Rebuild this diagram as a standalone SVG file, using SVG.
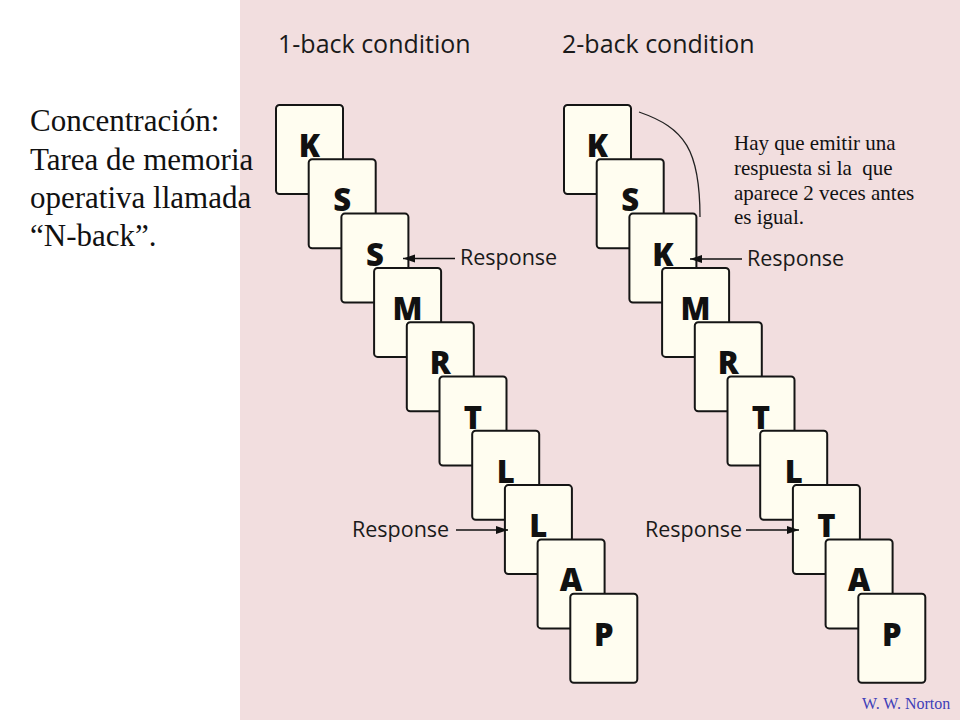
<svg xmlns="http://www.w3.org/2000/svg" width="960" height="720" viewBox="0 0 960 720">
<defs>
<style>
.bg{fill:#F2DEDF}
.card rect{fill:#FFFDF0;stroke:#151515;stroke-width:2}
.card text{font-family:"Open Sans","Liberation Sans",sans-serif;font-weight:800;font-size:31px;text-anchor:middle;fill:#111}
.sans{font-family:"Open Sans","Liberation Sans",sans-serif;fill:#1a1a1a}
.head{font-size:25px}
.resp{font-size:21.5px}
.serif{font-family:"Liberation Serif","Times New Roman",serif;fill:#111}
.conn line{stroke:#111;stroke-width:1.6}
.curve{fill:none;stroke:#222;stroke-width:1.3}
</style>
<marker id="ah" markerUnits="userSpaceOnUse" markerWidth="13" markerHeight="9" refX="12" refY="4" orient="auto">
<path d="M0,0 L12,4 L0,8 z" fill="#111"/>
</marker>
</defs>
<rect x="0" y="0" width="960" height="720" fill="#fff"/>
<rect class="bg" x="240" y="0" width="720" height="720"/>

<g id="left-text" class="serif" font-size="31">
<text x="30" y="131">Concentración:</text>
<text x="30" y="170">Tarea de memoria</text>
<text x="30" y="208">operativa llamada</text>
<text x="30" y="246">“N-back”.</text>
</g>

<g id="headings" class="sans head">
<text x="278" y="53">1-back condition</text>
<text x="562" y="53">2-back condition</text>
</g>

<g id="col1">
<g id="c1-0" class="card" transform="translate(276,105)"><rect width="67" height="89" rx="3.5"/><text x="33.5" y="52">K</text></g>
<g id="c1-1" class="card" transform="translate(308.7,159.3)"><rect width="67" height="89" rx="3.5"/><text x="33.5" y="52">S</text></g>
<g id="c1-2" class="card" transform="translate(341.4,213.6)"><rect width="67" height="89" rx="3.5"/><text x="33.5" y="52">S</text></g>
<g id="c1-3" class="card" transform="translate(374.1,267.9)"><rect width="67" height="89" rx="3.5"/><text x="33.5" y="52">M</text></g>
<g id="c1-4" class="card" transform="translate(406.8,322.2)"><rect width="67" height="89" rx="3.5"/><text x="33.5" y="52">R</text></g>
<g id="c1-5" class="card" transform="translate(439.5,376.5)"><rect width="67" height="89" rx="3.5"/><text x="33.5" y="52">T</text></g>
<g id="c1-6" class="card" transform="translate(472.2,430.8)"><rect width="67" height="89" rx="3.5"/><text x="33.5" y="52">L</text></g>
<g id="c1-7" class="card" transform="translate(504.9,485.1)"><rect width="67" height="89" rx="3.5"/><text x="33.5" y="52">L</text></g>
<g id="c1-8" class="card" transform="translate(537.6,539.4)"><rect width="67" height="89" rx="3.5"/><text x="33.5" y="52">A</text></g>
<g id="c1-9" class="card" transform="translate(570.3,593.7)"><rect width="67" height="89" rx="3.5"/><text x="33.5" y="52">P</text></g>
</g>

<g id="col2">
<g id="c2-0" class="card" transform="translate(564,105)"><rect width="67" height="89" rx="3.5"/><text x="33.5" y="52">K</text></g>
<g id="c2-1" class="card" transform="translate(596.7,159.3)"><rect width="67" height="89" rx="3.5"/><text x="33.5" y="52">S</text></g>
<g id="c2-2" class="card" transform="translate(629.4,213.6)"><rect width="67" height="89" rx="3.5"/><text x="33.5" y="52">K</text></g>
<g id="c2-3" class="card" transform="translate(662.1,267.9)"><rect width="67" height="89" rx="3.5"/><text x="33.5" y="52">M</text></g>
<g id="c2-4" class="card" transform="translate(694.8,322.2)"><rect width="67" height="89" rx="3.5"/><text x="33.5" y="52">R</text></g>
<g id="c2-5" class="card" transform="translate(727.5,376.5)"><rect width="67" height="89" rx="3.5"/><text x="33.5" y="52">T</text></g>
<g id="c2-6" class="card" transform="translate(760.2,430.8)"><rect width="67" height="89" rx="3.5"/><text x="33.5" y="52">L</text></g>
<g id="c2-7" class="card" transform="translate(792.9,485.1)"><rect width="67" height="89" rx="3.5"/><text x="33.5" y="52">T</text></g>
<g id="c2-8" class="card" transform="translate(825.6,539.4)"><rect width="67" height="89" rx="3.5"/><text x="33.5" y="52">A</text></g>
<g id="c2-9" class="card" transform="translate(858.3,593.7)"><rect width="67" height="89" rx="3.5"/><text x="33.5" y="52">P</text></g>
</g>

<g id="connectors" class="conn">
<line x1="455" y1="258.5" x2="403" y2="258.5" marker-end="url(#ah)"/>
<line x1="742" y1="259" x2="690" y2="259" marker-end="url(#ah)"/>
<line x1="456" y1="530" x2="508" y2="530" marker-end="url(#ah)"/>
<line x1="746" y1="530" x2="799" y2="530" marker-end="url(#ah)"/>
<path class="curve" d="M639,112 C685,128 700,150 700,217"/>
</g>

<g id="response-labels" class="sans resp">
<text x="460" y="265">Response</text>
<text x="747" y="266">Response</text>
<text x="352" y="537">Response</text>
<text x="645" y="537">Response</text>
</g>

<g id="note" class="serif" font-size="21">
<text x="734" y="150">Hay que emitir una</text>
<text x="734" y="175" xml:space="preserve">respuesta si la  que</text>
<text x="734" y="200">aparece 2 veces antes</text>
<text x="734" y="224">es igual.</text>
</g>

<text id="credit" x="862" y="709" font-family="Liberation Serif, Times New Roman, serif" font-size="16" fill="#4040B8">W. W. Norton</text>
</svg>
